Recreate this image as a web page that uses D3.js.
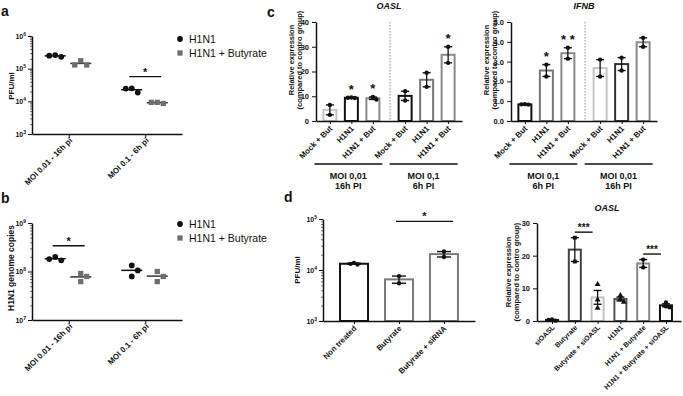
<!DOCTYPE html>
<html>
<head>
<meta charset="utf-8">
<script src="https://cdn.jsdelivr.net/npm/d3@7"></script>
<style>
  body { margin: 0; background: #fff; }
  svg { display: block; }
</style>
</head>
<body>
<div id="chart"></div>
<script>
"use strict";

// === a / b : scatter with mean line ===
const abSeries = ["H1N1", "H1N1 + Butyrate"];
const abCats = ["MOI 0.01 - 16h pi", "MOI 0.1 - 6h pi"];
const pfuH1N1 = [[2.6e5, 2.3e5, 2.5e5], [2.5e4, 1.85e4, 2.45e4]];
const pfuButyrate = [[1.75e5, 1.3e5, 1.3e5], [9.3e3, 8.6e3, 9.3e3]];
const copiesH1N1 = [[2.0e8, 1.7e8, 1.8e8], [1.33e8, 1.05e8, 7.9e7]];
const copiesButyrate = [[9.1e7, 7.9e7, 6.2e7], [1.0e8, 7.9e7, 6.2e7]];

// === c : qPCR, two infection conditions ===
const cBars = ["Mock + But", "H1N1", "H1N1 + But"];
const oaslGroups = ["MOI 0,01|16h PI", "MOI 0,1|6h PI"];
const oaslVals = [[[6.5, 2.5], [9.5, 9.3, 9.4], [9.7, 8.7]], [[12, 8.3], [19.5, 13.8], [30, 23.5]]];
const oaslStars = [["", "*", "*"], ["", "", "*"]];
const ifnbGroups = ["MOI 0,1|6h PI", "MOI 0,01|16h PI"];
const ifnbVals = [[[0.85, 0.83, 0.84], [2.85, 2.25], [3.7, 3.15]], [[3.1, 2.25], [3.2, 2.55], [4.2, 3.75]]];
const ifnbStars = [["", "*", "**"], ["", "", ""]];

// === d ===
const dPfuCats = ["Non treated", "Butyrate", "Butyrate + siRNA"];
const dPfuVals = [[1.38e4, 1.28e4, 1.32e4], [7.6e3, 5.5e3], [2.3e4, 1.8e4]];
const dOaslCats = ["siOASL", "Butyrate", "Butyrate + siOASL", "H1N1", "H1N1 + Butyrate", "H1N1 + Butyrate + siOASL"];
const dOaslVals = [[0.5, 0.1, 0.3], [25.5, 18.2], [11.2, 6.5, 4.0], [7.8, 6.6, 5.8], [18.8, 16.4], [5.7, 4.5, 4.2]];

// significance brackets (levels in data units)
const sigA = { cat: 1, level: 5.7e4, label: "*" };
const sigB = { cat: 0, level: 3.4e8, label: "*" };
const sigDPfu = { from: 1, to: 2, level: 9e4, label: "*" };
const sigDOasl = [{ from: 1, to: 2, level: 27.2, label: "***" }, { from: 4, to: 5, level: 20.5, label: "***" }];

// === styles ===
const ink = "#111";
const sans = "'Liberation Sans', Arial, Helvetica, sans-serif";
const oaslColors = [["#c4c4c4", ink, "#8a8a8a"], [ink, "#777", "#8a8a8a"]];
const ifnbColors = [[ink, "#777", "#8a8a8a"], ["#c4c4c4", "#333", "#8a8a8a"]];
const dPfuColors = [ink, "#7a7a7a", "#7a7a7a"];
const dOaslColors = [ink, "#444", "#c4c4c4", "#555", "#888", ink];
const dOaslShapes = [d3.symbolCircle, d3.symbolSquare, d3.symbolTriangle, d3.symbolTriangle, d3.symbolCircle, d3.symbolCircle];

const svg = d3.select("#chart").append("svg")
  .attr("width", 683).attr("height", 396)
  .attr("font-family", sans);

svg.append("rect").attr("width", 683).attr("height", 396).attr("fill", "#fff");

function styleAxis(g) {
  g.select(".domain").attr("stroke", ink).attr("stroke-width", 1.5);
  g.selectAll(".tick line").attr("stroke", ink).attr("stroke-width", 1);
  g.selectAll(".tick text").attr("fill", ink).attr("font-size", 7.5)
    .attr("font-weight", "bold").attr("font-family", sans);
}

// log y axis with 10^n labels and minor ticks
function logAxis(x, y, lo, hi) {
  const minors = [];
  for (let e = lo; e < hi; e++) for (let m = 2; m < 10; m++) minors.push(m * 10 ** e);
  const gm = svg.append("g").attr("transform", `translate(${x},0)`)
    .call(d3.axisLeft(y).tickValues(minors).tickSize(2).tickFormat(""));
  gm.select(".domain").remove();
  gm.selectAll("line").attr("stroke", ink).attr("stroke-width", 0.6);
  const g = svg.append("g").attr("transform", `translate(${x},0)`)
    .call(d3.axisLeft(y).tickValues(d3.range(lo, hi + 1).map(e => 10 ** e))
      .tickSize(4).tickSizeOuter(0).tickPadding(2));
  styleAxis(g);
  g.selectAll(".tick text").attr("font-size", 7).text(null).each(function (d) {
    const t = d3.select(this);
    t.append("tspan").text("10");
    t.append("tspan").attr("dy", -3).attr("font-size", 5).text(Math.round(Math.log10(d)));
  });
}

function linAxis(x, y, step) {
  const [a, b] = y.domain();
  const g = svg.append("g").attr("transform", `translate(${x},0)`)
    .call(d3.axisLeft(y).tickValues(d3.range(a, b + step / 2, step)).tickSize(4).tickSizeOuter(0).tickPadding(3));
  styleAxis(g);
}

function xAxis(y0, x0, x1, centers, labels, dy, size) {
  const g = svg.append("g").attr("transform", `translate(0,${y0})`)
    .call(d3.axisBottom(d3.scaleLinear().domain([x0, x1]).range([x0, x1]))
      .tickValues(centers).tickSize(3).tickSizeOuter(0).tickFormat(""));
  styleAxis(g);
  centers.forEach((cx, i) => {
    svg.append("text")
      .attr("transform", `translate(${cx + 3},${y0 + dy}) rotate(-45)`)
      .attr("text-anchor", "end").attr("font-size", size || 8).attr("font-weight", "bold")
      .attr("fill", ink).text(labels[i]);
  });
}

function yLabel(x, y, lines, size) {
  lines.forEach((s, i) => {
    svg.append("text")
      .attr("transform", `translate(${x + i * 8},${y}) rotate(-90)`)
      .attr("text-anchor", "middle").attr("font-size", size || 7.5).attr("font-weight", "bold")
      .attr("fill", ink).text(s);
  });
}

function sigLine(x0, x1, y, label, size) {
  svg.append("line").attr("x1", x0).attr("x2", x1).attr("y1", y).attr("y2", y)
    .attr("stroke", ink).attr("stroke-width", 1.4);
  svg.append("text").attr("x", (x0 + x1) / 2).attr("y", y - 1)
    .attr("text-anchor", "middle").attr("font-size", size).attr("font-weight", "bold")
    .attr("fill", ink).text(label);
}

// place points side by side when they would overlap
function swarm(vals, y, step, minDist) {
  const placed = [];
  vals.forEach(v => {
    const py = y(v);
    const cands = [0, step, -step, 2 * step, -2 * step];
    let off = cands.find(o => placed.every(p => Math.hypot(p.dx - o, p.y - py) >= minDist));
    if (off === undefined) off = 0;
    placed.push({ dx: off, y: py });
  });
  return placed;
}

function panelLetter(x, y, s) {
  svg.append("text").attr("x", x).attr("y", y).attr("font-size", 14)
    .attr("font-weight", "bold").attr("fill", ink).text(s);
}

// === scatter panels (a, b) ===
function scatterPanel(y, lo, hi, h1Vals, butVals, y0, legendY, sig) {
  const x = d3.scalePoint().domain(abCats).range([32, 182]).padding(0.48);
  logAxis(32, y, lo, hi);
  const gx = svg.append("g").attr("transform", `translate(0,${y0})`)
    .call(d3.axisBottom(x).tickSize(4).tickSizeOuter(0).tickFormat(""));
  styleAxis(gx);
  abCats.forEach(c => {
    svg.append("text")
      .attr("transform", `translate(${x(c) + 4},${y0 + 7}) rotate(-45)`)
      .attr("text-anchor", "end").attr("font-size", 8).attr("font-weight", "bold")
      .attr("fill", ink).text(c);
  });

  const series = [
    { vals: h1Vals, off: -13.5, shape: d3.symbolCircle, fill: ink, line: ink, size: 26 },
    { vals: butVals, off: 12, shape: d3.symbolSquare, fill: "#6e6e6e", line: "#333", size: 28 }
  ];
  series.forEach(s => {
    s.vals.forEach((vals, i) => {
      const cx = x(abCats[i]) + s.off;
      const m = d3.mean(vals);
      svg.append("line").attr("x1", cx - 10.5).attr("x2", cx + 10.5)
        .attr("y1", y(m)).attr("y2", y(m)).attr("stroke", s.line).attr("stroke-width", 1.5);
      swarm(vals, y, 6, 5.5).forEach(p => {
        svg.append("path").attr("d", d3.symbol(s.shape, s.size)())
          .attr("transform", `translate(${cx + p.dx},${p.y})`).attr("fill", s.fill);
      });
    });
  });

  const xs = x(abCats[sig.cat]);
  sigLine(xs - 16, xs + 16, y(sig.level), sig.label, 11);

  // legend
  series.forEach((s, i) => {
    svg.append("path").attr("d", d3.symbol(s.shape, s.size)())
      .attr("transform", `translate(180,${legendY + i * 14})`).attr("fill", s.fill);
    svg.append("text").attr("x", 189).attr("y", legendY + i * 14 + 3.5)
      .attr("font-size", 10.5).attr("fill", ink).text(abSeries[i]);
  });
}

const yA = d3.scaleLog().domain([1e3, 1e6]).range([134, 36]);
scatterPanel(yA, 3, 6, pfuH1N1, pfuButyrate, 134, 39, sigA);
yLabel(14, 86, ["PFU/ml"], 8);
panelLetter(1, 16, "a");

const yB = d3.scaleLog().domain([1e7, 1e9]).range([320, 223]);
scatterPanel(yB, 7, 9, copiesH1N1, copiesButyrate, 320, 224, sigB);
yLabel(14, 268, ["H1N1 genome copies"], 8.5);
panelLetter(1, 203, "b");

// === bar helper ===
function drawBars(bars, y, base, bw, capW, starGap) {
  bars.forEach(b => {
    const m = d3.mean(b.vals);
    const se = d3.deviation(b.vals) / Math.sqrt(b.vals.length);
    svg.append("rect").attr("x", b.cx - bw / 2).attr("y", y(m))
      .attr("width", bw).attr("height", y(base) - y(m))
      .attr("fill", "#fff").attr("stroke", b.color).attr("stroke-width", 2);
    const top = y(m + se), bot = y(m - se);
    svg.append("line").attr("x1", b.cx).attr("x2", b.cx).attr("y1", top).attr("y2", bot)
      .attr("stroke", ink).attr("stroke-width", 1.3);
    [top, bot].forEach(v => svg.append("line").attr("x1", b.cx - capW / 2).attr("x2", b.cx + capW / 2)
      .attr("y1", v).attr("y2", v).attr("stroke", ink).attr("stroke-width", 1.4));
    swarm(b.vals, y, 3.5, 3.5).forEach(p => {
      svg.append("path").attr("d", d3.symbol(b.shape || d3.symbolCircle, 15)())
        .attr("transform", `translate(${b.cx + p.dx},${p.y})`).attr("fill", ink);
    });
    if (b.star) {
      svg.append("text").attr("x", b.cx).attr("y", top + starGap)
        .attr("text-anchor", "middle").attr("font-size", 13).attr("font-weight", "bold")
        .attr("fill", ink).text(b.star.split("").join(" "));
    }
  });
}

// === c panels ===
function qpcrPanel(x0, title, groups, vals, stars, colors, yMax, step) {
  const x1 = x0 + 146;
  const y = d3.scaleLinear().domain([0, yMax]).range([121, 22]);
  const gx = d3.scalePoint().domain(groups).range([x0, x1]).padding(0.47);
  const inner = d3.scalePoint().domain(cBars).range([-21.5, 21.5]);
  const bars = [], centers = [], labels = [];
  groups.forEach((g, gi) => cBars.forEach((c, ci) => {
    const cx = gx(g) + inner(c);
    bars.push({ cx, vals: vals[gi][ci], color: colors[gi][ci], star: stars[gi][ci] });
    centers.push(cx); labels.push(c);
  }));
  // dashed separator between conditions
  const mid = (gx(groups[0]) + gx(groups[1])) / 2 + 1;
  svg.append("line").attr("x1", mid).attr("x2", mid).attr("y1", y(yMax)).attr("y2", y(0))
    .attr("stroke", "#777").attr("stroke-width", 0.8).attr("stroke-dasharray", "1.5,1.5");
  drawBars(bars, y, 0, 13, 8, -4);
  linAxis(x0, y, step);
  xAxis(y(0), x0, x1, centers, labels, 8);
  groups.forEach(g => {
    const c = gx(g) - 3;
    svg.append("line").attr("x1", c - 34).attr("x2", c + 34).attr("y1", 164).attr("y2", 164)
      .attr("stroke", ink).attr("stroke-width", 1.6);
    g.split("|").forEach((s, i) => svg.append("text").attr("x", c).attr("y", 179 + i * 9.5)
      .attr("text-anchor", "middle").attr("font-size", 9).attr("font-weight", "bold")
      .attr("fill", ink).text(s));
  });
  svg.append("text").attr("x", (x0 + x1) / 2).attr("y", 9).attr("text-anchor", "middle")
    .attr("font-size", 9).attr("font-weight", "bold").attr("font-style", "italic")
    .attr("fill", ink).text(title);
  yLabel(x0 - 22, 60, ["Relative expression", "(compared to contro group)"]);
}

qpcrPanel(316, "OASL", oaslGroups, oaslVals, oaslStars, oaslColors, 40, 10);
qpcrPanel(511, "IFNB", ifnbGroups, ifnbVals, ifnbStars, ifnbColors, 5, 1);
panelLetter(267, 17, "c");

// === d left: PFU bars (log) ===
const yD1 = d3.scaleLog().domain([1e3, 1e5]).range([321, 219]);
const xD1 = d3.scalePoint().domain(dPfuCats).range([323, 475]).padding(0.69);
drawBars(dPfuCats.map((c, i) => ({ cx: xD1(c), vals: dPfuVals[i], color: dPfuColors[i] })),
  yD1, 1e3, 28, 14, -4);
logAxis(323, yD1, 3, 5);
xAxis(321, 323, 475, dPfuCats.map(c => xD1(c)), dPfuCats, 8, 7.8);
sigLine(xD1(dPfuCats[sigDPfu.from]) - 3, xD1(dPfuCats[sigDPfu.to]) + 9, yD1(sigDPfu.level), sigDPfu.label, 11);
yLabel(300, 270, ["PFU/ml"], 8);
panelLetter(284, 202, "d");

// === d right: OASL after siRNA ===
const yD2 = d3.scaleLinear().domain([0, 30]).range([321, 223]);
const xD2 = d3.scalePoint().domain(dOaslCats).range([537, 681]).padding(0.66);
drawBars(dOaslCats.map((c, i) => ({ cx: xD2(c), vals: dOaslVals[i], color: dOaslColors[i], shape: dOaslShapes[i] })),
  yD2, 0, 12, 8, -4);
linAxis(537, yD2, 10);
xAxis(321, 537, 681, dOaslCats.map(c => xD2(c)), dOaslCats, 7, 7);
sigDOasl.forEach(s => sigLine(xD2(dOaslCats[s.from]), xD2(dOaslCats[s.to]) - 5, yD2(s.level), s.label, 10));
svg.append("text").attr("x", 607).attr("y", 211).attr("text-anchor", "middle")
  .attr("font-size", 9).attr("font-weight", "bold").attr("font-style", "italic")
  .attr("fill", ink).text("OASL");
yLabel(511, 272, ["Relative expression", "(compared to contro group)"]);
</script>
</body>
</html>
